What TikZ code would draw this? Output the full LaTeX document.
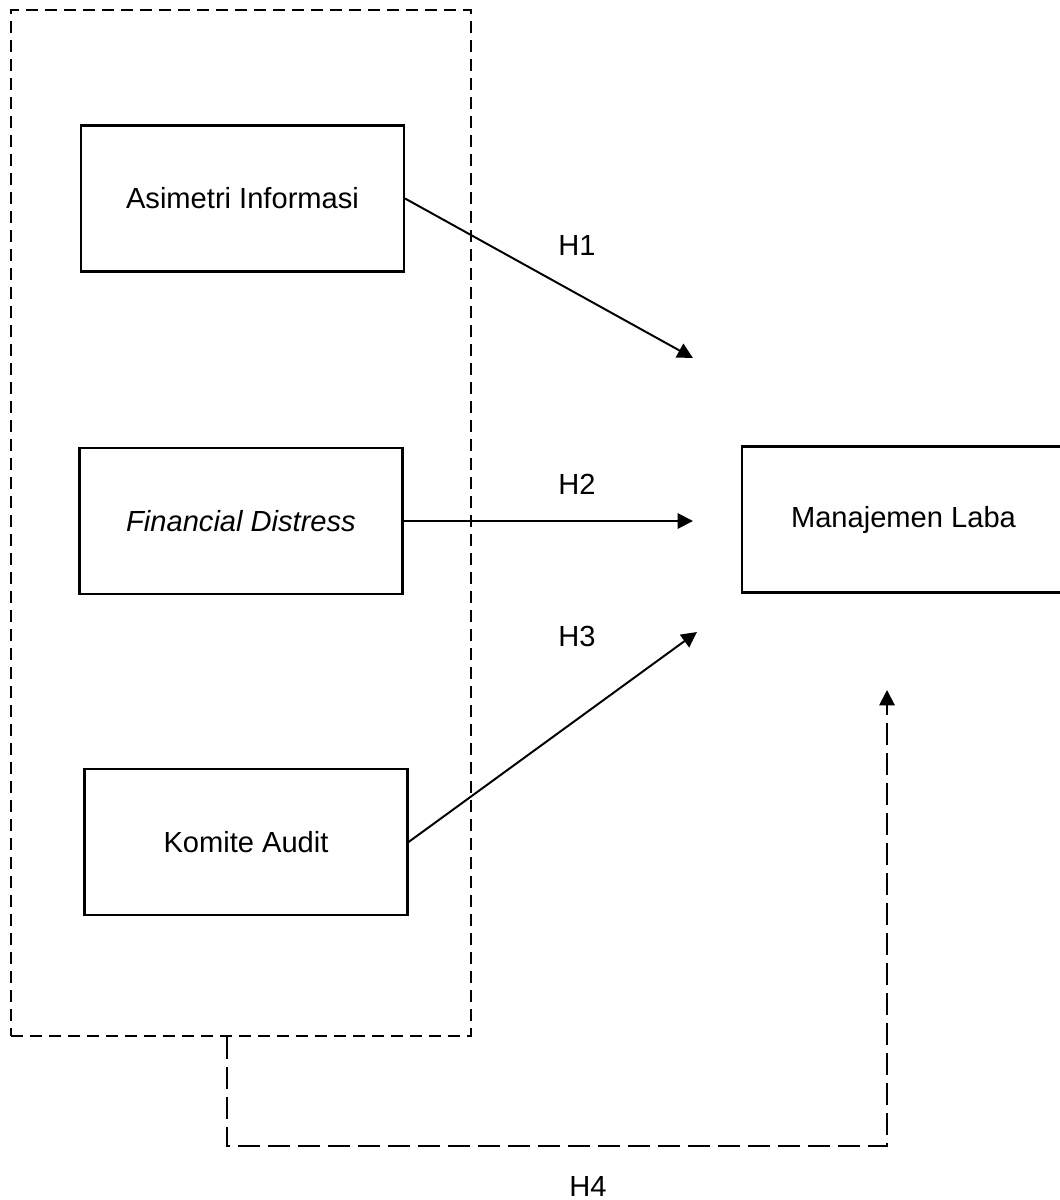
\documentclass[tikz,border=0pt]{standalone}
\usepackage{fontspec}
\setmainfont{Liberation Sans}
\usetikzlibrary{arrows.meta}

\begin{document}
\begin{tikzpicture}
		%\draw[help lines] (0,0) grid (26,-30);
		\useasboundingbox (0,0) rectangle (26.475,-30);
		\tikzset{VarStyle/.style = {rectangle, draw, line width=1.5pt, inner sep=0pt,
		minimum width=8.075cm, minimum height=3.65cm, font=\fontsize{20.7}{25}\selectfont},
		HypStyle/.style = {font=\fontsize{20.7}{25}\selectfont},
		ArrowStyle/.style = {line width=1.4pt, -{Triangle[length=11pt,width=11pt]}}}
		\node[draw, line width=1.4pt, dash pattern=on 0.3cm off 0.175cm,
		minimum width=11.5cm, minimum height=25.65cm] (grp) at (6.025,-13.075) {};
		\node[VarStyle] (asim) at (6.0625,-4.9625) {Asimetri Informasi};
		\node[VarStyle] (fin) at (6.025,-13.025) {\itshape Financial Distress};
		\node[VarStyle] (kom) at (6.15,-21.05) {Komite Audit};
		\node[VarStyle] (laba) at (22.5875,-12.9875) {Manajemen Laba};
		\coordinate (h1end) at (17.325,-8.95);
		\coordinate (h2end) at (17.325,-13.025);
		\coordinate (h3end) at (17.425,-15.8);
		\coordinate (h4col) at (5.675,0);
		\coordinate (h4end) at (22.175,-17.25);
		\draw[ArrowStyle] (asim.east) -- (h1end);
		\draw[ArrowStyle] (fin.east) -- (h2end);
		\draw[ArrowStyle] (kom.east) -- (h3end);
		\draw[ArrowStyle, dash pattern=on 0.55cm off 0.2cm]
			(grp.south -| h4col) -- (5.675,-28.65) -- (22.175,-28.65) -- (h4end);
		\node[HypStyle] (h1) at (14.425,-6.125) {H1};
		\node[HypStyle] (h2) at (14.425,-12.1) {H2};
		\node[HypStyle] (h3) at (14.425,-15.9) {H3};
		\node[HypStyle] (h4) at (14.7,-29.65) {H4};
	\end{tikzpicture}
\end{document}
